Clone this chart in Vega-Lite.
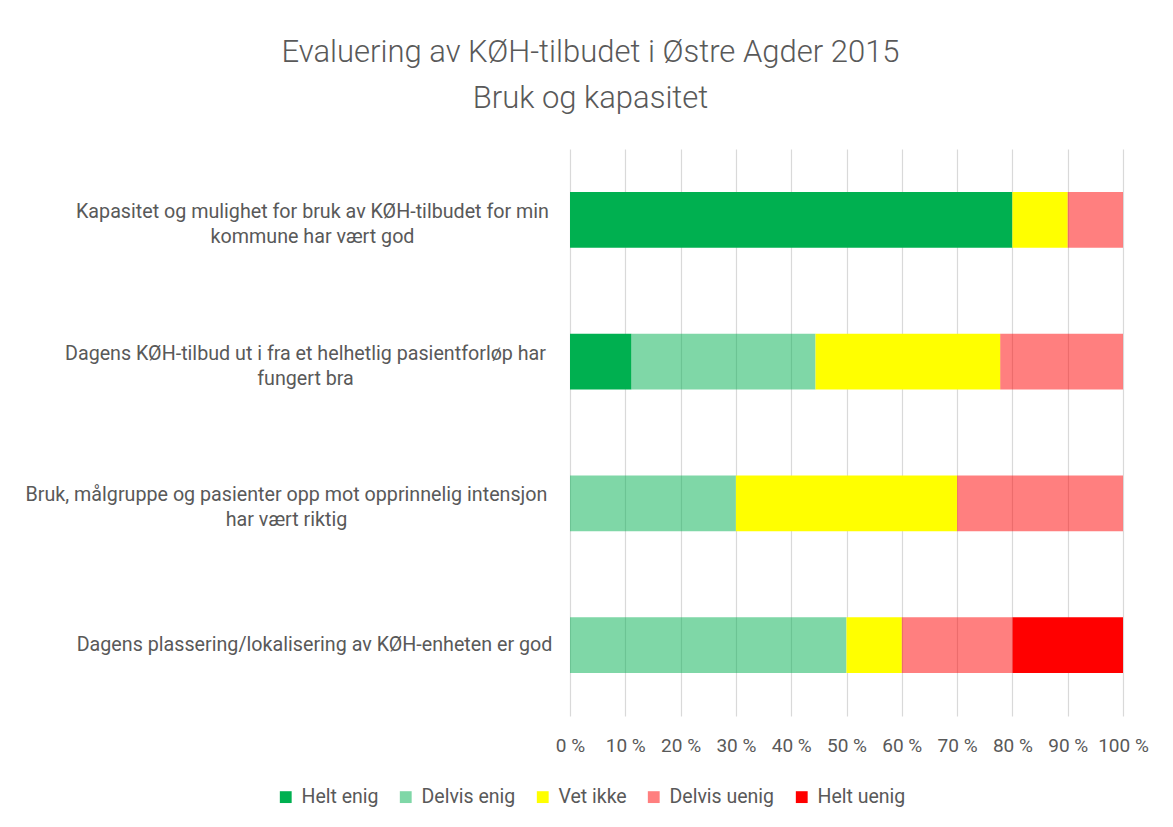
{
  "$schema": "https://vega.github.io/schema/vega-lite/v6.json",
  "autosize": {"type": "none"},
  "padding": {"left": 570, "top": 149, "right": 49, "bottom": 111},
  "width": 553,
  "height": 567,
  "background": "white",
  "title": {
    "text": ["Evaluering av KØH-tilbudet i Østre Agder 2015", "Bruk og kapasitet"],
    "anchor": "middle",
    "frame": "group",
    "dx": -256,
    "offset": 34,
    "font": "Roboto",
    "fontSize": 31,
    "fontWeight": 300,
    "lineHeight": 46,
    "color": "#595959"
  },
  "data": {
    "values": [
      {"q": "Kapasitet og mulighet for bruk av KØH-tilbudet for min|kommune har vært god", "svar": "Helt enig", "rank": 1, "pct": 80},
      {"q": "Kapasitet og mulighet for bruk av KØH-tilbudet for min|kommune har vært god", "svar": "Delvis enig", "rank": 2, "pct": 0},
      {"q": "Kapasitet og mulighet for bruk av KØH-tilbudet for min|kommune har vært god", "svar": "Vet ikke", "rank": 3, "pct": 10},
      {"q": "Kapasitet og mulighet for bruk av KØH-tilbudet for min|kommune har vært god", "svar": "Delvis uenig", "rank": 4, "pct": 10},
      {"q": "Kapasitet og mulighet for bruk av KØH-tilbudet for min|kommune har vært god", "svar": "Helt uenig", "rank": 5, "pct": 0},
      {"q": "Dagens KØH-tilbud ut i fra et helhetlig pasientforløp har|fungert bra", "svar": "Helt enig", "rank": 1, "pct": 11.1},
      {"q": "Dagens KØH-tilbud ut i fra et helhetlig pasientforløp har|fungert bra", "svar": "Delvis enig", "rank": 2, "pct": 33.3},
      {"q": "Dagens KØH-tilbud ut i fra et helhetlig pasientforløp har|fungert bra", "svar": "Vet ikke", "rank": 3, "pct": 33.4},
      {"q": "Dagens KØH-tilbud ut i fra et helhetlig pasientforløp har|fungert bra", "svar": "Delvis uenig", "rank": 4, "pct": 22.2},
      {"q": "Dagens KØH-tilbud ut i fra et helhetlig pasientforløp har|fungert bra", "svar": "Helt uenig", "rank": 5, "pct": 0},
      {"q": "Bruk, målgruppe og pasienter opp mot opprinnelig intensjon|har vært riktig", "svar": "Helt enig", "rank": 1, "pct": 0},
      {"q": "Bruk, målgruppe og pasienter opp mot opprinnelig intensjon|har vært riktig", "svar": "Delvis enig", "rank": 2, "pct": 30},
      {"q": "Bruk, målgruppe og pasienter opp mot opprinnelig intensjon|har vært riktig", "svar": "Vet ikke", "rank": 3, "pct": 40},
      {"q": "Bruk, målgruppe og pasienter opp mot opprinnelig intensjon|har vært riktig", "svar": "Delvis uenig", "rank": 4, "pct": 30},
      {"q": "Bruk, målgruppe og pasienter opp mot opprinnelig intensjon|har vært riktig", "svar": "Helt uenig", "rank": 5, "pct": 0},
      {"q": "Dagens plassering/lokalisering av KØH-enheten er god", "svar": "Helt enig", "rank": 1, "pct": 0},
      {"q": "Dagens plassering/lokalisering av KØH-enheten er god", "svar": "Delvis enig", "rank": 2, "pct": 50},
      {"q": "Dagens plassering/lokalisering av KØH-enheten er god", "svar": "Vet ikke", "rank": 3, "pct": 10},
      {"q": "Dagens plassering/lokalisering av KØH-enheten er god", "svar": "Delvis uenig", "rank": 4, "pct": 20},
      {"q": "Dagens plassering/lokalisering av KØH-enheten er god", "svar": "Helt uenig", "rank": 5, "pct": 20}
    ]
  },
  "mark": {"type": "bar"},
  "encoding": {
    "y": {
      "field": "q",
      "type": "nominal",
      "sort": null,
      "scale": {"paddingInner": 0.606, "paddingOuter": 0.303},
      "axis": {
        "title": null,
        "domain": false,
        "ticks": false,
        "grid": false,
        "labelExpr": "split(datum.value, '|')",
        "labelAlign": "center",
        "labelPadding": {
          "condition": [
            {"test": "indexof(datum.value,'Kapasitet')==0", "value": 258},
            {"test": "indexof(datum.value,'Dagens K')==0", "value": 265},
            {"test": "indexof(datum.value,'Bruk')==0", "value": 284}
          ],
          "value": 256
        },
        "labelOffset": {
          "condition": {"test": "indexof(datum.value,'|')>=0", "value": -8},
          "value": 0
        },
        "labelFont": "Roboto",
        "labelFontSize": 19.7,
        "labelLineHeight": 25,
        "labelColor": "#595959",
        "labelLimit": 700
      }
    },
    "x": {
      "field": "pct",
      "type": "quantitative",
      "stack": "zero",
      "scale": {"domain": [0, 100], "nice": false},
      "axis": {
        "title": null,
        "values": [0, 10, 20, 30, 40, 50, 60, 70, 80, 90, 100],
        "labelExpr": "datum.value + ' %'",
        "domain": false,
        "ticks": false,
        "grid": true,
        "gridColor": "#d9d9d9",
        "gridWidth": 1.2,
        "labelPadding": 20,
        "labelFont": "Roboto",
        "labelFontSize": 19,
        "labelColor": "#595959",
        "labelFlush": false
      }
    },
    "order": {"field": "rank", "type": "quantitative"},
    "color": {
      "field": "svar",
      "type": "nominal",
      "sort": ["Helt enig", "Delvis enig", "Vet ikke", "Delvis uenig", "Helt uenig"],
      "scale": {
        "domain": ["Helt enig", "Delvis enig", "Vet ikke", "Delvis uenig", "Helt uenig"],
        "range": ["#00B050", "#00B050", "#FFFF00", "#FF0000", "#FF0000"]
      },
      "legend": {
        "title": null,
        "orient": "none",
        "direction": "horizontal",
        "legendX": -294,
        "legendY": 638,
        "symbolType": "square",
        "symbolSize": 140,
        "symbolStrokeWidth": 0,
        "labelFont": "Roboto",
        "labelFontSize": 19.5,
        "labelColor": "#595959",
        "labelOffset": 6,
        "columnPadding": 17
      }
    },
    "opacity": {
      "field": "svar",
      "type": "nominal",
      "sort": ["Helt enig", "Delvis enig", "Vet ikke", "Delvis uenig", "Helt uenig"],
      "scale": {
        "type": "ordinal",
        "domain": ["Helt enig", "Delvis enig", "Vet ikke", "Delvis uenig", "Helt uenig"],
        "range": [1, 0.5, 1, 0.5, 1]
      }
    }
  },
  "config": {
    "view": {"stroke": null}
  }
}
